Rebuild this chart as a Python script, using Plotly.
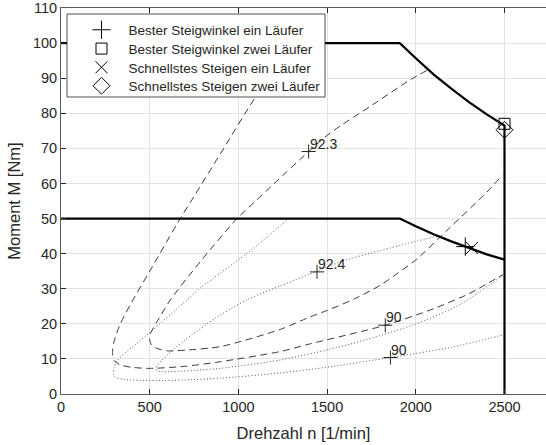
import plotly.graph_objects as go

# ---------------- data ----------------
# torque limits: two runners (upper) and one runner (lower)
n_two = [0, 1910, 2000, 2100, 2200, 2300, 2400, 2500, 2500]
m_two = [100, 100, 95.7, 91.1, 87.0, 83.2, 79.7, 76.5, 0]
n_one = [0, 1910, 2000, 2100, 2200, 2300, 2400, 2500]
m_one = [50, 50, 47.8, 45.5, 43.5, 41.6, 39.8, 38.3]

# efficiency contours, two runners (dashed)
n_d90 = [1315, 1105, 900, 729, 672, 500, 400, 330, 297, 290, 300, 334, 400, 503, 700, 898, 1236, 1405, 1828, 2100, 2300, 2490]
m_d90 = [100, 85.3, 68.6, 54.6, 50, 35.0, 26.3, 19.5, 14.5, 11.5, 9.5, 8.3, 7.6, 7.3, 7.9, 9.2, 12.1, 14.3, 19.6, 24.3, 28.6, 34.0]
n_d923 = [2063, 1970, 1750, 1518, 1396, 1200, 1095, 992, 785, 616, 540, 505, 500, 510, 541, 598, 700, 898, 1236, 1405, 1500, 1650, 1800, 1900, 2000, 2200, 2400, 2490]
m_d923 = [92.2, 89.6, 82.2, 74.4, 69.1, 59.9, 54.9, 50, 37.7, 26.8, 20.5, 17.3, 15.5, 14.0, 13.0, 12.3, 12.5, 13.5, 18.4, 22.0, 23.8, 27.0, 31.0, 34.5, 38.2, 47.8, 57.5, 62.5]

# efficiency contours, one runner (dotted)
n_p90 = [1285, 1067, 785, 710, 500, 400, 316, 300, 296, 310, 353, 450, 541, 700, 898, 1236, 1405, 1550, 1857, 2200, 2495]
m_p90 = [50, 40.8, 30.2, 26.8, 17.5, 13.3, 9.5, 7.5, 5.6, 4.7, 4.2, 3.9, 3.8, 4.0, 4.5, 6.0, 7.0, 8.0, 10.4, 13.3, 16.9]
n_p924 = [2120, 1900, 1574, 1443, 1236, 1050, 870, 700, 569, 545, 535, 540, 560, 620, 750, 898, 1236, 1600, 1988, 2250, 2490]
m_p924 = [45, 42.2, 37.7, 35.0, 30.8, 26.9, 21.6, 15.4, 9.7, 8.3, 7.3, 6.7, 6.4, 6.4, 6.7, 7.3, 9.7, 13.8, 19.7, 25.5, 33.8]

# contour labels
lab_text = ["92.3", "92.4", "90", "90"]
lab_n = [1396, 1443, 1828, 1857]
lab_m = [69.1, 34.8, 19.6, 10.4]

# operating points
pts_names = ["Bester Steigwinkel ein Läufer", "Bester Steigwinkel zwei Läufer",
             "Schnellstes Steigen ein Läufer", "Schnellstes Steigen zwei Läufer"]
pts_n = [2279, 2500, 2316, 2500]
pts_m = [42.0, 77.0, 41.6, 75.3]
pts_symbols = ["cross-thin-open", "square-open", "x-thin-open", "diamond-open"]
pts_sizes = [13, 11, 12, 13]

x_ticks = [0, 500, 1000, 1500, 2000, 2500]
y_ticks = list(range(0, 111, 10))

FONT = "Liberation Sans, Arial, Helvetica, sans-serif"
TXT = "#262626"

W, H = 546, 445
ML, MR, MT, MB = 61, 0, 8, 51
PW, PH = W - ML - MR, H - MT - MB


def px_x(p):
    return (p - ML) / PW


def px_y(p):
    return 1 - (p - MT) / PH


fig = go.Figure()

dash_style = dict(color="#3a3a3a", width=1, dash="7px,4.5px", shape="spline", smoothing=0.7)
dot_style = dict(color="#555555", width=1, dash="1px,2.2px", shape="spline", smoothing=0.7)

for nn, mm in [(n_d90, m_d90), (n_d923, m_d923)]:
    fig.add_trace(go.Scatter(x=nn, y=mm, mode="lines", line=dash_style,
                             showlegend=False, hoverinfo="skip"))
for nn, mm in [(n_p90, m_p90), (n_p924, m_p924)]:
    fig.add_trace(go.Scatter(x=nn, y=mm, mode="lines", line=dot_style,
                             showlegend=False, hoverinfo="skip"))

fig.add_trace(go.Scatter(x=n_two, y=m_two, mode="lines",
                         line=dict(color="#000000", width=2.2), showlegend=False))
fig.add_trace(go.Scatter(x=n_one, y=m_one, mode="lines",
                         line=dict(color="#000000", width=2.2), showlegend=False))

# contour label markers
fig.add_trace(go.Scatter(x=lab_n, y=lab_m, mode="markers",
                         marker=dict(symbol="cross-thin-open", size=10, color="#262626",
                                     line=dict(color="#262626", width=1)),
                         showlegend=False, hoverinfo="skip"))
for t, xv, yv in zip(lab_text, lab_n, lab_m):
    fig.add_annotation(x=xv, y=yv, text=t, showarrow=False, xanchor="left",
                       yanchor="middle", xshift=-1, yshift=8,
                       font=dict(family=FONT, size=14, color=TXT))

legend_ids = ["legend", "legend2", "legend3", "legend4"]
legend_rows = [30.0, 48.8, 67.5, 86.0]   # pixel row centres of the legend entries

for name, xv, yv, sym, sz, lid in zip(pts_names, pts_n, pts_m, pts_symbols, pts_sizes, legend_ids):
    fig.add_trace(go.Scatter(x=[xv], y=[yv], mode="markers", name=name, legend=lid,
                             marker=dict(symbol=sym, size=sz, color="#000000",
                                         line=dict(color="#000000", width=1))))

# legend frame
fig.add_shape(type="rect", xref="paper", yref="paper",
              x0=px_x(67), x1=px_x(325), y0=px_y(97), y1=px_y(14),
              fillcolor="white", line=dict(color="#262626", width=0.8),
              layer="above")

legend_layouts = {}
for lid, row in zip(legend_ids, legend_rows):
    legend_layouts[lid] = dict(x=px_x(74.5), y=px_y(row), xanchor="left", yanchor="middle",
                               bgcolor="rgba(0,0,0,0)", borderwidth=0, itemwidth=44,
                               font=dict(family=FONT, size=13.5, color=TXT),
                               itemclick=False, itemdoubleclick=False)

fig.update_layout(
    width=W, height=H,
    margin=dict(l=ML, r=MR, t=MT, b=MB, pad=0),
    paper_bgcolor="white", plot_bgcolor="white",
    font=dict(family=FONT, size=14, color=TXT),
    showlegend=True,
    xaxis=dict(range=[0, PW / 0.1774], tickvals=x_ticks, ticks="inside",
               ticklen=5, tickcolor=TXT, showline=True, linecolor="#5a5a5a",
               linewidth=1, mirror="ticks", showgrid=True, gridcolor="#e3e3e3",
               zeroline=False, tickfont=dict(size=14.5, color=TXT),
               ticklabeloverflow="allow",
               title=dict(text="Drehzahl n [1/min]", font=dict(size=16.5, color=TXT),
                          standoff=13)),
    yaxis=dict(range=[0, 110], tickvals=y_ticks, ticks="inside", ticklen=5,
               tickcolor=TXT, showline=True, linecolor="#5a5a5a", linewidth=1,
               mirror=False, showgrid=True, gridcolor="#e3e3e3", zeroline=False,
               tickfont=dict(size=14.5, color=TXT), ticklabeloverflow="allow",
               title=dict(text="Moment M [Nm]", font=dict(size=16.5, color=TXT),
                          standoff=8)),
    **legend_layouts,
)

fig.write_html("out.html")
